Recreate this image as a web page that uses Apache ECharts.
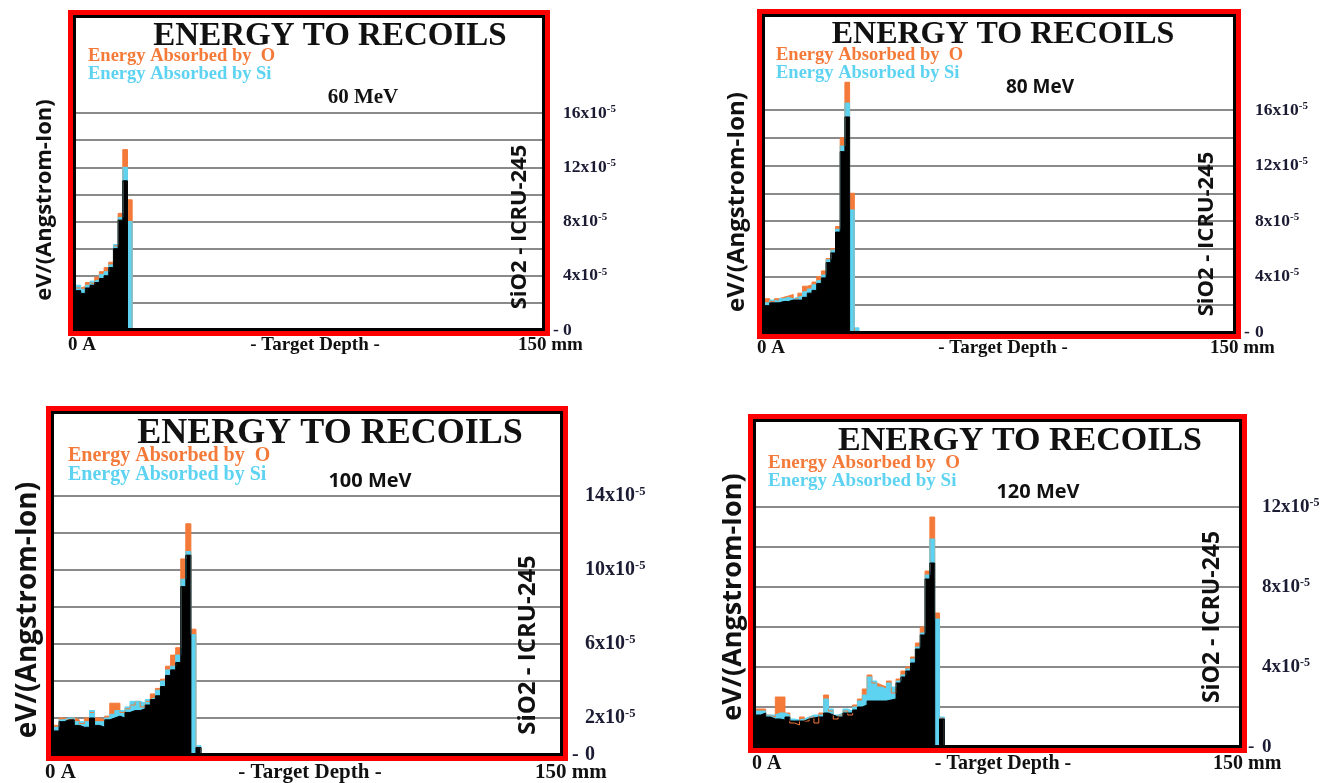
<!DOCTYPE html>
<html><head><meta charset="utf-8">
<script src="https://cdn.jsdelivr.net/npm/echarts@6/dist/echarts.min.js"></script>
<style>html,body{margin:0;padding:0;background:#fff}#c{width:1341px;height:783px}</style>
</head><body><div id="c"></div>
<script>
// ---------------- data ----------------
const binCount = 100;            // depth bins across 0 .. 150 mm
const energies = ['60 MeV', '80 MeV', '100 MeV', '120 MeV'];
const titleText = 'ENERGY TO RECOILS';
const legendO = 'Energy Absorbed by  O';
const legendSi = 'Energy Absorbed by Si';
const yTitle = 'eV/(Angstrom-Ion)';
const targetLabel = 'SiO2 - ICRU-245';
const depthLabels = ['0 A', '- Target Depth -', '150 mm'];

// tick labels shown on the right axis (units of 1e-5)
const ticks60 = [0, 4, 8, 12, 16];
const ticks80 = [0, 4, 8, 12, 16];
const ticks100 = [0, 2, 6, 10, 14];
const ticks120 = [0, 4, 8, 12];

// 60 MeV (units of 1e-5 eV/(Angstrom-Ion)), one value per depth bin
const total60 = [2.9, 2.7, 3.1, 3.3, 3.5, 3.8, 4.0, 4.6, 6.0, 8.1, 11.0, 0];
const si60    = [3.3, 3.0, 3.3, 3.6, 3.7, 4.1, 4.3, 4.8, 6.3, 8.3, 12.0, 8.0];
const o60     = [3.1, 3.2, 3.5, 3.4, 3.9, 4.3, 4.6, 5.0, 6.2, 8.6, 13.3, 9.6];

// 80 MeV
const total80 = [1.9, 2.1, 2.1, 2.2, 2.2, 2.3, 2.3, 2.3, 2.5, 2.8, 3.0, 3.5, 3.9, 5.0, 5.7, 7.2, 13.0, 15.5, 0, 0];
const si80    = [2.1, 2.3, 2.2, 2.4, 2.5, 2.4, 2.5, 2.6, 2.9, 3.1, 3.4, 3.7, 4.1, 5.2, 5.9, 7.4, 13.4, 16.5, 8.8, 0.3];
const o80     = [2.4, 2.2, 2.4, 2.5, 2.6, 2.7, 2.4, 2.8, 3.3, 3.4, 3.6, 4.0, 4.4, 5.3, 6.0, 7.6, 14.0, 18.0, 10.0, 0];

// 100 MeV
const total100 = [1.3, 1.8, 1.9, 1.9, 1.6, 1.5, 1.5, 2.0, 1.6, 1.5, 1.9, 2.0, 2.1, 2.0, 2.3, 2.4, 2.4, 2.5, 2.7, 3.0, 3.2, 3.7, 4.3, 4.6, 5.0, 9.1, 10.8, 0, 0.4];
const si100    = [1.5, 1.9, 2.0, 2.0, 1.8, 1.8, 1.8, 2.4, 1.8, 1.8, 2.0, 2.2, 2.4, 2.4, 2.6, 2.9, 2.9, 2.8, 3.0, 3.1, 3.5, 4.0, 4.6, 4.8, 5.4, 9.5, 11.0, 6.5, 0.5];
const o100     = [1.6, 2.0, 1.9, 2.0, 1.9, 1.7, 2.0, 2.3, 2.0, 1.9, 2.1, 2.8, 2.8, 2.3, 2.5, 2.7, 2.9, 2.6, 2.9, 3.3, 3.6, 4.1, 4.8, 5.4, 5.8, 10.6, 12.5, 6.8, 0.4];

// 120 MeV
const total120 = [1.6, 1.7, 1.5, 1.4, 1.4, 1.35, 1.5, 1.3, 1.3, 1.3, 1.4, 1.45, 1.5, 1.5, 1.7, 1.6, 1.5, 1.5, 1.7, 1.7, 1.85, 2.0, 2.1, 2.3, 2.3, 2.3, 2.3, 2.35, 2.4, 3.2, 3.5, 3.8, 4.2, 4.9, 5.6, 8.4, 9.2, 0, 1.4];
const si120    = [1.8, 1.8, 1.6, 1.6, 1.7, 1.7, 1.6, 1.4, 1.35, 1.4, 1.5, 1.6, 1.6, 1.6, 2.4, 1.9, 1.6, 1.7, 1.9, 1.8, 2.0, 2.3, 2.6, 3.5, 3.3, 3.0, 2.9, 3.2, 3.0, 3.3, 3.6, 3.9, 4.4, 5.0, 5.7, 8.6, 10.4, 6.4, 1.5];
const o120     = [1.9, 1.9, 1.6, 1.5, 2.5, 2.5, 1.7, 1.2, 1.1, 1.5, 1.3, 1.5, 1.2, 1.7, 2.6, 1.8, 1.4, 1.6, 1.8, 1.6, 2.1, 2.4, 2.9, 3.6, 3.2, 3.1, 3.0, 3.3, 2.7, 3.4, 3.8, 4.0, 4.5, 5.2, 6.0, 8.8, 11.5, 6.7, 1.45];

// bin edges (category positions) for the step histogram
const binEdges = Array.from({length: binCount + 1}, (_, i) => String(i));

// ---------------- layout ----------------
const panels = [
  {energy: energies[0], ticks: ticks60, total: total60, si: si60, o: o60,
   box: [68, 10, 482, 326], grid: [76, 113, 468, 217], ymax: 16,
   lab: {size: 17.5, sup: 11, margin: 9, pad: 10},
   title: [330, 36, 33], legend: [88, 56, 74, 18.5], en: [363, 98, 21, true],
   ylab: [45, 200, 22], side: [520, 227, 22], bottom: [345, 19, 68, 315, 518]},
  {energy: energies[1], ticks: ticks80, total: total80, si: si80, o: o80,
   box: [757, 9, 484, 330], grid: [765, 110, 470, 222], ymax: 16,
   lab: {size: 17.5, sup: 11, margin: 9, pad: 11},
   title: [1003, 35, 32], legend: [776, 55, 73, 18.5], en: [1040, 88, 19, false],
   ylab: [737, 202, 24], side: [1207, 234, 22], bottom: [348, 19, 757, 1003, 1210]},
  {energy: energies[2], ticks: ticks100, total: total100, si: si100, o: o100,
   box: [46, 406, 522, 355], grid: [54, 496, 507, 259], ymax: 14,
   lab: {size: 20, sup: 12.5, margin: 11, pad: 13},
   title: [330, 434, 36], legend: [68, 456, 475, 20], en: [370, 481, 20, false],
   ylab: [28, 610, 28], side: [528, 645, 24], bottom: [773, 21, 45, 310, 535]},
  {energy: energies[3], ticks: ticks120, total: total120, si: si120, o: o120,
   box: [748, 414, 499, 339], grid: [756, 507, 483, 240], ymax: 12,
   lab: {size: 19, sup: 12, margin: 9, pad: 14},
   title: [1020, 441, 34], legend: [768, 463, 481, 19], en: [1038, 492, 20, false],
   ylab: [733, 597, 27], side: [1212, 617, 23], bottom: [764, 20, 752, 1003, 1213]}
];

const SERIF = '"Liberation Serif", "Times New Roman", serif';
const SANS = '"Open Sans", "Noto Sans", sans-serif';
const ORANGE = '#f47a3a', CYAN = '#5dd3f1', RED = '#ff0000';

function txt(text, x, y, font, fill, align, rotation) {
  return {
    type: 'text', x: x, y: y, rotation: rotation || 0, z: 120, silent: true,
    style: {text: text, x: 0, y: 0, font: font, fill: fill,
      align: align || 'left', verticalAlign: 'middle',
      textAlign: align || 'left', textVerticalAlign: 'middle'}
  };
}

const grids = [], xAxes = [], yAxes = [], series = [], graphics = [];
panels.forEach((p, i) => {
  grids.push({left: p.grid[0], top: p.grid[1], width: p.grid[2], height: p.grid[3]});
  xAxes.push({type: 'category', gridIndex: i, data: binEdges, show: false, boundaryGap: false});
  const L = p.lab;
  yAxes.push({
    type: 'value', gridIndex: i, position: 'right', min: 0, max: p.ymax, interval: 2,
    axisLine: {show: false}, axisTick: {show: false},
    splitLine: {show: true, lineStyle: {color: '#8a8a8a', width: 2}},
    axisLabel: {
      show: true, margin: L.margin, color: '#1b1b33', showMinLabel: true, showMaxLabel: true,
      formatter: function (v) {
        if (p.ticks.indexOf(v) < 0) return '';
        if (v === 0) return '{d|-}{n|0}';
        return '{p| }{n|' + v + 'x10}{s|-5}';
      },
      rich: {
        p: {width: L.pad},
        d: {width: L.pad, fontFamily: SERIF, fontWeight: 'bold', fontSize: L.size, color: '#1b1b33', align: 'left'},
        n: {fontFamily: SERIF, fontWeight: 'bold', fontSize: L.size, color: '#1b1b33'},
        s: {fontFamily: SERIF, fontWeight: 'bold', fontSize: L.sup, color: '#1b1b33', padding: [0, 0, L.sup * 0.7, 0]}
      }
    }
  });
  // step histograms: each bin drawn from its left edge to the next edge
  [[p.o, ORANGE, 'O'], [p.si, CYAN, 'Si'], [p.total, '#000000', 'Total']].forEach(([d, c, n]) => {
    series.push({
      type: 'line', name: n + ' ' + p.energy, xAxisIndex: i, yAxisIndex: i,
      data: d.concat([0]), step: 'end', symbol: 'none', clip: false, silent: true,
      lineStyle: {color: c, width: 1}, areaStyle: {color: c, opacity: 1},
      emphasis: {disabled: true}
    });
  });
  const B = p.box;
  graphics.push({type: 'rect', z: 110, silent: true,
    shape: {x: B[0] + 2.5, y: B[1] + 2.5, width: B[2] - 5, height: B[3] - 5},
    style: {fill: null, stroke: RED, lineWidth: 5}});
  graphics.push({type: 'rect', z: 111, silent: true,
    shape: {x: B[0] + 6.5, y: B[1] + 6.5, width: B[2] - 13, height: B[3] - 13},
    style: {fill: null, stroke: '#000', lineWidth: 3}});
  graphics.push(txt(titleText, p.title[0], p.title[1], 'bold ' + p.title[2] + 'px ' + SERIF, '#111', 'center'));
  graphics.push(txt(legendO, p.legend[0], p.legend[1], 'bold ' + p.legend[3] + 'px ' + SERIF, ORANGE, 'left'));
  graphics.push(txt(legendSi, p.legend[0], p.legend[2], 'bold ' + p.legend[3] + 'px ' + SERIF, CYAN, 'left'));
  graphics.push(txt(p.energy, p.en[0], p.en[1], 'bold ' + p.en[2] + 'px ' + (p.en[3] ? SERIF : SANS), '#111', 'center'));
  graphics.push(txt(yTitle, p.ylab[0], p.ylab[1], 'bold ' + p.ylab[2] + 'px ' + SANS, '#111', 'center', Math.PI / 2));
  graphics.push(txt(targetLabel, p.side[0], p.side[1], 'bold ' + p.side[2] + 'px ' + SANS, '#111', 'center', Math.PI / 2));
  const bt = p.bottom, bf = 'bold ' + bt[1] + 'px ' + SERIF;
  graphics.push(txt(depthLabels[0], bt[2], bt[0], bf, '#111', 'left'));
  graphics.push(txt(depthLabels[1], bt[3], bt[0], bf, '#111', 'center'));
  graphics.push(txt(depthLabels[2], bt[4], bt[0], bf, '#111', 'left'));
});

const chart = echarts.init(document.getElementById('c'), null, {renderer: 'canvas'});
chart.setOption({
  animation: false,
  backgroundColor: '#ffffff',
  grid: grids, xAxis: xAxes, yAxis: yAxes, series: series,
  graphic: {elements: graphics}
});
</script>
</body></html>
